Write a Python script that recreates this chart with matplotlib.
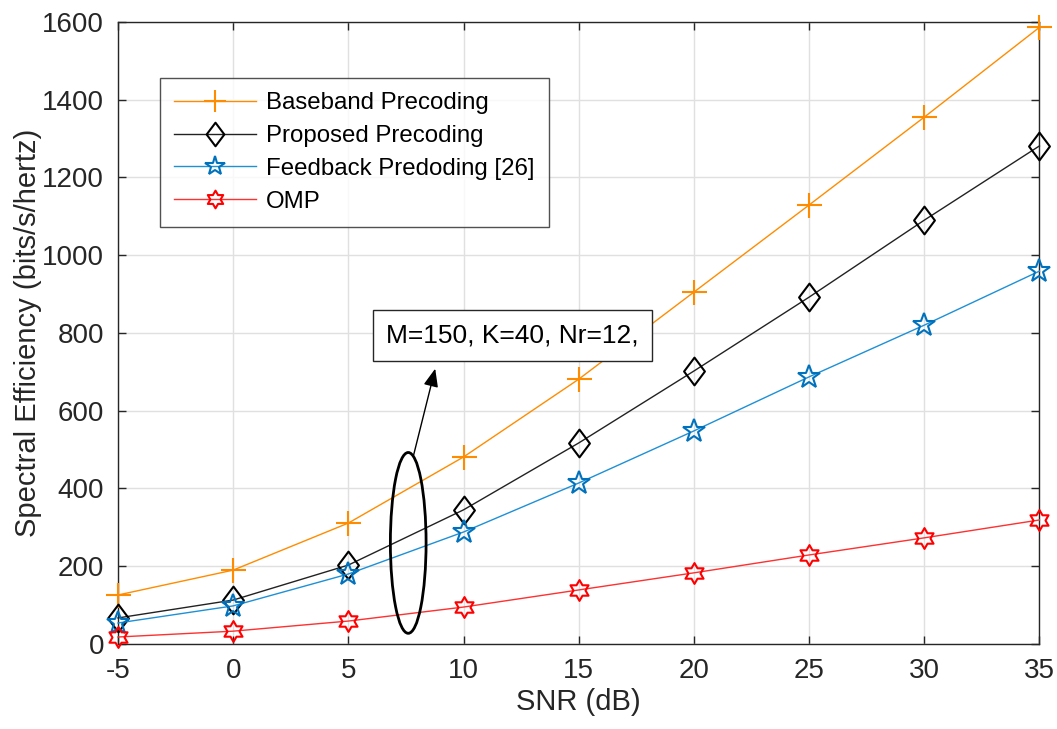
import numpy as np
import matplotlib
matplotlib.use("Agg")
import matplotlib.pyplot as plt
from matplotlib.path import Path
from matplotlib.patches import Ellipse

plt.rcParams['font.family'] = ['Liberation Sans', 'DejaVu Sans']
plt.rcParams['axes.unicode_minus'] = False

snr = [-5, 0, 5, 10, 15, 20, 25, 30, 35]
baseband = [126, 190, 311, 481, 681, 905, 1129, 1355, 1586]
proposed = [67, 113, 203, 345, 517, 702, 892, 1090, 1281]
feedback = [54, 98, 180, 288, 414, 548, 687, 820, 959]
omp = [18, 33, 59, 95, 139, 183, 229, 273, 319]
labels = ['Baseband Precoding', 'Proposed Precoding', 'Feedback Predoding [26]', 'OMP']

# hexagram marker
verts = []
for i in range(12):
    ang = np.pi / 2 + i * np.pi / 6
    r = 1.0 if i % 2 == 0 else 0.577
    verts.append((r * np.cos(ang), r * np.sin(ang)))
verts.append(verts[0])
hexagram = Path(verts, [Path.MOVETO] + [Path.LINETO] * 11 + [Path.CLOSEPOLY])

# diamond marker (slightly taller than wide)
diamond = Path([(0, 1), (0.75, 0), (0, -1), (-0.75, 0), (0, 1)],
               [Path.MOVETO, Path.LINETO, Path.LINETO, Path.LINETO, Path.CLOSEPOLY])

fig = plt.figure(figsize=(10.57, 7.29), dpi=100)
ax = fig.add_axes([0.1116, 0.1166, 0.9834 - 0.1116, 0.970 - 0.1166])

kw = dict(lw=1.0, clip_on=False, zorder=3)
ax.plot(snr, baseband, color='#FF8C00', marker='+', ms=18, mew=1.5, label=labels[0], **kw)
ax.plot(snr, proposed, color='#222222', marker=diamond, ms=20, mfc='none', mew=1.5, mec='black', label=labels[1], **kw)
ax.plot(snr, feedback, color='#1E90D6', marker='*', ms=17, mfc='none', mew=1.5, mec='#0072BD', label=labels[2], **kw)
ax.plot(snr, omp, color='#FF3030', marker=hexagram, ms=15, mfc='none', mew=1.5, mec='red', label=labels[3], **kw)

ax.set_xlim(-5, 35)
ax.set_ylim(0, 1600)
ax.set_xticks(range(-5, 36, 5))
ax.set_yticks(range(0, 1601, 200))
ax.grid(True, color='#E0E0E0', lw=1.0)
ax.set_axisbelow(True)
ax.tick_params(direction='in', top=True, right=True, labelsize=20, length=6, width=1,
               colors='#262626', labelcolor='#262626')
ax.tick_params(axis='x', pad=10)
ax.tick_params(axis='y', pad=10)
for s in ax.spines.values():
    s.set_color('#262626')
    s.set_linewidth(1.0)
ax.set_xlabel('SNR (dB)', fontsize=21, color='#262626', labelpad=3)
ax.set_ylabel('Spectral Efficiency (bits/s/hertz)', fontsize=21, color='#262626', labelpad=0)

leg = ax.legend(loc='upper left', bbox_to_anchor=(0.0456, 0.910), fontsize=17.3, frameon=True,
                fancybox=False, edgecolor='#262626', handlelength=3.4, borderpad=0.6,
                labelspacing=0.45, handletextpad=0.4, borderaxespad=0, markerscale=0.85)
leg.get_frame().set_linewidth(1.0)
leg.set_zorder(5)

ell = Ellipse((7.6, 260), 1.55, 465, fill=False, edgecolor='black', lw=2.0, zorder=4)
ax.add_patch(ell)

ax.annotate('', xy=(8.8, 715), xytext=(7.8, 478),
            arrowprops=dict(arrowstyle='-|>,head_length=1.1,head_width=0.45', color='black', lw=1.0))
ax.text(6.63, 793, 'M=150, K=40, Nr=12,', fontsize=19, va='center', ha='left', zorder=5,
        bbox=dict(boxstyle='square,pad=0.5', fc='white', ec='#262626', lw=1.0))

fig.savefig('out.png', dpi=100)
